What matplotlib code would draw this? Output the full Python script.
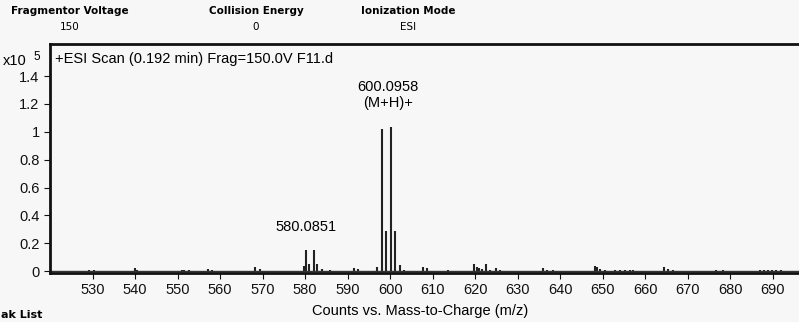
import matplotlib
matplotlib.use('Agg')
import matplotlib.pyplot as plt
from matplotlib.ticker import FormatStrFormatter

plt.rcParams['font.family'] = ['Liberation Sans', 'DejaVu Sans']

# Espectro de masas (+ESI), intensidades en unidades de x10^5
mz = [529.1, 530.3, 539.9, 540.4, 551.0, 551.6, 552.8, 557.1, 558.1, 568.3, 569.3,
      579.7, 580.0851, 580.9, 582.08, 582.8, 583.9, 585.8, 591.5, 592.4, 596.8,
      598.10, 599.10, 600.0958, 601.10, 602.2, 603.2, 607.6, 608.7, 613.6,
      619.7, 620.4, 620.9, 621.7, 622.5, 623.4, 624.8, 625.9,
      636.0, 636.9, 638.3, 648.1, 648.7, 649.3, 650.5, 652.8, 654.0, 655.2, 656.4, 657.1,
      664.5, 665.3, 666.5, 676.7, 678.3, 686.9, 687.8, 688.8, 689.8, 690.7, 691.9]
counts = [0.010, 0.010, 0.020, 0.010, 0.010, 0.010, 0.010, 0.012, 0.010, 0.030, 0.015,
          0.040, 0.150, 0.050, 0.150, 0.050, 0.012, 0.010, 0.022, 0.015, 0.030,
          1.017, 0.285, 1.036, 0.290, 0.045, 0.010, 0.030, 0.020, 0.006,
          0.050, 0.030, 0.020, 0.012, 0.050, 0.010, 0.020, 0.010,
          0.020, 0.010, 0.005, 0.040, 0.030, 0.015, 0.010, 0.008, 0.008, 0.008, 0.008, 0.008,
          0.030, 0.015, 0.008, 0.008, 0.008, 0.008, 0.008, 0.008, 0.008, 0.008, 0.008]

xticks = list(range(530, 700, 10))
yticks = [0, 0.2, 0.4, 0.6, 0.8, 1, 1.2, 1.4]

fig = plt.figure(figsize=(7.99, 3.22), dpi=100)
fig.patch.set_facecolor('#f7f7f7')
ax = fig.add_axes([0.0626, 0.152, 0.958, 0.711])
ax.set_facecolor('#f7f7f7')

ax.vlines(mz, 0, counts, color='#222222', linewidth=1.5)
ax.axhline(0, color='#333333', linewidth=1)

ax.set_xlim(520, 700)
ax.set_ylim(-0.014, 1.63)
ax.set_xticks(xticks)
ax.set_yticks(yticks)
ax.yaxis.set_major_formatter(FormatStrFormatter('%g'))
ax.tick_params(labelsize=10.5, length=4, width=0.8, direction='out', colors='#111111')
for s in ax.spines.values():
    s.set_linewidth(2)
    s.set_color('#111111')

ax.set_xlabel('Counts vs. Mass-to-Charge (m/z)', fontsize=10.5)
ax.xaxis.set_label_coords((420 - 50) / (815.5 - 50), -0.135)

# anotaciones
ax.text(0.006, 0.965, '+ESI Scan (0.192 min) Frag=150.0V F11.d', transform=ax.transAxes,
        fontsize=10.5, va='top', ha='left')
ax.text(600.0958 - 0.6, 1.16, '600.0958\n(M+H)+', ha='center', va='bottom', fontsize=10.5,
        linespacing=1.15)
ax.text(580.0851, 0.27, '580.0851', ha='center', va='bottom', fontsize=10.5)

fig.text(0.004, 1 - 61 / 322, 'x10', fontsize=10.5, ha='left', va='center')
fig.text(0.042, 1 - 57 / 322, '5', fontsize=8.5, ha='left', va='center')

# cabecera
hdr = [('Fragmentor Voltage', '150', 70), ('Collision Energy', '0', 256),
       ('Ionization Mode', 'ESI', 408)]
for titulo, valor, xp in hdr:
    fig.text(xp / 799, 1 - 11 / 322, titulo, fontsize=7.5, fontweight='bold',
             ha='center', va='center', family='DejaVu Sans')
    fig.text(xp / 799, 1 - 27 / 322, valor, fontsize=7.5, ha='center', va='center',
             family='DejaVu Sans')

fig.text(0.001, 1 - 315 / 322, 'ak List', fontsize=8, fontweight='bold',
         ha='left', va='center', family='DejaVu Sans')

plt.savefig('out.png', dpi=100, facecolor=fig.get_facecolor())
